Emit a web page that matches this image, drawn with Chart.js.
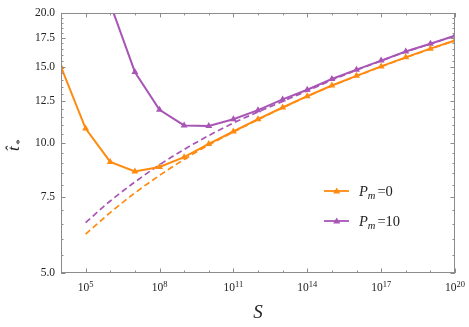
<!DOCTYPE html>
<html><head><meta charset="utf-8">
<script src="https://cdn.jsdelivr.net/npm/chart.js@4.4.1/dist/chart.umd.min.js"></script>
<style>html,body{margin:0;padding:0;background:#fff}#wrap{width:469px;height:327px;position:relative}</style>
</head><body>
<div id="wrap"><canvas id="c"></canvas></div>
<script>
// ---- data ----
const S = [1e4,1e5,1e6,1e7,1e8,1e9,1e10,1e11,1e12,1e13,1e14,1e15,1e16,1e17,1e18,1e19,1e20];
const tPm0   = [15.0,10.8,9.04,8.59,8.80,9.27,9.95,10.63,11.35,12.08,12.83,13.58,14.30,15.04,15.78,16.53,17.27];
const tPm10  = [null,null,21.0,14.6,11.93,10.98,10.95,11.35,11.91,12.61,13.28,14.06,14.78,15.51,16.28,16.97,17.72];
const asymPm0  = [null,6.15,6.90,7.66,8.41,9.16,9.89,10.60,11.32,12.06,12.81,13.56,14.28,15.02,15.76,16.51,17.25];
const asymPm10 = [null,6.54,7.34,8.12,8.90,9.66,10.40,11.12,11.80,12.48,13.20,13.98,14.74,15.49,16.26,16.95,17.70];
const yTicks = [5.0,7.5,10.0,12.5,15.0,17.5,20.0];
const yMinorTicks = [5.5,6.0,6.5,7.0,8.0,8.5,9.0,9.5,10.5,11.0,11.5,12.0,13.0,13.5,14.0,14.5,15.5,16.0,16.5,17.0,18.0,18.5,19.0,19.5];
const xExps = [4,5,6,7,8,9,10,11,12,13,14,15,16,17,18,19,20];
const xLabelExps = [5,8,11,14,17,20];
const seriesLabels = ['0','10'];

const ORANGE = '#ff8a10', PURPLE = '#a855b5';
const pts = arr => S.map((x,i)=>({x:x,y:arr[i]}));
const SERIF = "'Liberation Serif','DejaVu Serif',serif";

const decor = {
  id:'decor',
  afterDraw(chart){
    const ctx = chart.ctx, a = chart.chartArea, xs = chart.scales.x, ys = chart.scales.y;
    ctx.save();
    // frame
    ctx.strokeStyle = '#8c8c8c'; ctx.lineWidth = 1;
    ctx.strokeRect(Math.round(a.left)+0.5, Math.round(a.top)+0.5, Math.round(a.right-a.left)-1, Math.round(a.bottom-a.top)-1);
    // x ticks (bottom & top)
    ctx.beginPath();
    xExps.forEach(e=>{
      const px = Math.round(xs.getPixelForValue(Math.pow(10,e)))+0.5;
      const L = xLabelExps.includes(e) ? 4.5 : 2.5;
      ctx.moveTo(px, a.bottom); ctx.lineTo(px, a.bottom-L);
      ctx.moveTo(px, a.top); ctx.lineTo(px, a.top+L);
    });
    // y ticks (left & right)
    yTicks.concat(yMinorTicks).forEach(v=>{
      const py = Math.round(ys.getPixelForValue(v))+0.5;
      const L = yTicks.includes(v) ? 4.5 : 2.5;
      ctx.moveTo(a.left, py); ctx.lineTo(a.left+L, py);
      ctx.moveTo(a.right, py); ctx.lineTo(a.right-L, py);
    });
    ctx.stroke();
    // x tick labels 10^n
    ctx.fillStyle = '#222';
    ctx.textBaseline = 'alphabetic'; ctx.textAlign = 'left';
    xLabelExps.forEach(e=>{
      const px = xs.getPixelForValue(Math.pow(10,e));
      ctx.font = "11.5px " + SERIF; const w1 = ctx.measureText('10').width;
      ctx.font = "8.5px " + SERIF; const w2 = ctx.measureText(String(e)).width;
      const x0 = px - (w1+w2)/2;
      ctx.font = "11.5px " + SERIF; ctx.fillText('10', x0, 291);
      ctx.font = "8.5px " + SERIF; ctx.fillText(String(e), x0+w1, 286.5);
    });
    // axis titles
    ctx.font = "italic 19px " + SERIF; ctx.textAlign = 'center';
    ctx.fillText('S', (a.left+a.right)/2, 318);
    ctx.save();
    ctx.translate(18.5, 151); ctx.rotate(-Math.PI/2);
    ctx.textAlign = 'left';
    ctx.font = "italic 17px " + SERIF; ctx.fillText('t\u0302', 0, 0);
    const wt = ctx.measureText('t').width;
    ctx.font = "11px " + SERIF; ctx.fillText('*', wt+1.5, 4.5);
    ctx.restore();
    // legend
    [[ORANGE,191,seriesLabels[0]],[PURPLE,221,seriesLabels[1]]].forEach(([col,y,lab])=>{
      ctx.strokeStyle = col; ctx.lineWidth = 1.8;
      ctx.beginPath(); ctx.moveTo(324,y); ctx.lineTo(349,y); ctx.stroke();
      ctx.fillStyle = col;
      ctx.beginPath(); ctx.moveTo(336.7,y-3.5); ctx.lineTo(340.2,y+2.5); ctx.lineTo(333.2,y+2.5); ctx.closePath(); ctx.fill();
      ctx.fillStyle = '#222'; ctx.textAlign='left';
      let x = 359;
      ctx.font = "italic 14.5px " + SERIF; ctx.fillText('P', x, y+5); x += ctx.measureText('P').width;
      ctx.font = "italic 10.5px " + SERIF; ctx.fillText('m', x, y+8); x += ctx.measureText('m').width + 2;
      ctx.font = "14.5px " + SERIF; ctx.fillText('=' + lab, x, y+5);
    });
    ctx.restore();
  }
};

new Chart(document.getElementById('c'), {
  type:'line',
  data:{datasets:[
    {label:'Pm=0', data:pts(tPm0), borderColor:ORANGE, backgroundColor:ORANGE, borderWidth:2,
     pointStyle:'triangle', pointRadius:4, pointBorderWidth:0, order:0},
    {label:'Pm=10', data:pts(tPm10), borderColor:PURPLE, backgroundColor:PURPLE, borderWidth:2,
     pointStyle:'triangle', pointRadius:4, pointBorderWidth:0, order:0},
    {label:'asym Pm=0', data:pts(asymPm0), borderColor:ORANGE, borderWidth:1.7, borderDash:[6,3.5],
     pointRadius:0, cubicInterpolationMode:'monotone', order:1},
    {label:'asym Pm=10', data:pts(asymPm10), borderColor:PURPLE, borderWidth:1.7, borderDash:[6,3.5],
     pointRadius:0, cubicInterpolationMode:'monotone', order:1}
  ]},
  options:{
    responsive:true, maintainAspectRatio:false, animation:false,
    layout:{padding:{left:0,right:14,top:6,bottom:0}},
    plugins:{legend:{display:false}, tooltip:{enabled:false}},
    scales:{
      x:{type:'logarithmic', min:1e4, max:1e20,
         grid:{display:false}, border:{display:false}, ticks:{display:false},
         afterFit(s){ s.height = 54; }},
      y:{type:'logarithmic', min:5, max:20,
         grid:{display:false, drawTicks:false}, border:{display:false},
         afterBuildTicks(s){ s.ticks = yTicks.map(v=>({value:v})); },
         ticks:{padding:6, color:'#222', font:{family:SERIF, size:11.5},
                callback:(v)=>Number(v).toFixed(1)},
         afterFit(s){ s.width = 61; }}
    }
  },
  plugins:[decor]
});
</script>
</body></html>
